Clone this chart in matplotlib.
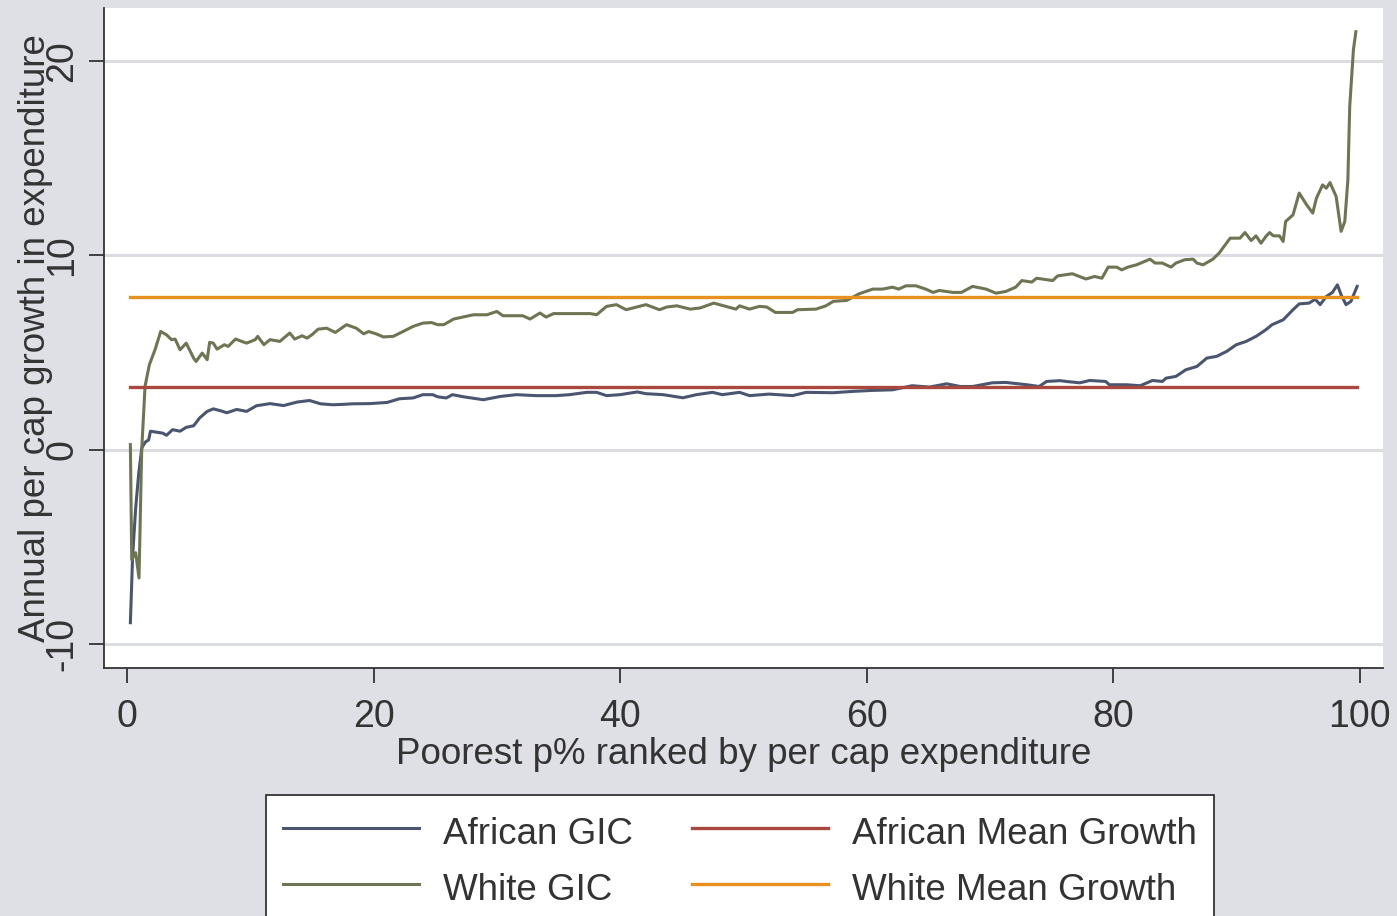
import numpy as np
import matplotlib
matplotlib.use("Agg")
import matplotlib.pyplot as plt

plt.rcParams['font.family'] = ['Liberation Sans', 'DejaVu Sans']
plt.rcParams['axes.unicode_minus'] = False

# percentile positions and growth rates
afr_x = [0.27, 0.45, 0.7, 0.95, 1.2, 1.5, 1.75, 1.9, 2.4, 2.9, 3.2, 3.7, 4.3, 4.8, 5.4, 5.9, 6.5, 7.0, 7.6, 8.1,
         8.9, 9.7, 10.5, 11.6, 12.7, 13.8, 14.8, 15.7, 16.7, 17.5, 18.3, 19.7, 21.1, 22.1, 23.2, 24.0, 24.8, 25.2,
         25.9, 26.4, 27.3, 28.9, 30.3, 31.6, 33.2, 34.8, 35.9, 37.3, 38.1, 38.9, 40.0, 41.4, 42.1, 43.5, 45.1,
         46.2, 47.5, 48.3, 49.7, 50.5, 52.1, 54.0, 55.1, 57.3, 58.9, 60.5, 62.1, 63.7, 65.1, 66.5, 67.6, 68.6,
         70.2, 71.3, 73.0, 74.0, 74.6, 75.7, 76.2, 77.3, 78.1, 79.4, 79.7, 81.1, 82.2, 83.2, 84.0, 84.3, 85.1,
         85.9, 86.8, 87.6, 88.4, 89.2, 90.0, 90.8, 91.6, 92.4, 92.9, 93.8, 94.6, 95.1, 95.9, 96.4, 96.8, 97.3,
         97.8, 98.2, 98.5, 98.9, 99.3, 99.8]
afr_gic = [-8.9, -5.5, -3.0, -1.2, 0.1, 0.4, 0.5, 0.95, 0.9, 0.85, 0.74, 1.03, 0.95, 1.15, 1.23, 1.64, 1.97, 2.1,
           2.0, 1.9, 2.07, 1.97, 2.26, 2.37, 2.27, 2.45, 2.53, 2.36, 2.31, 2.33, 2.36, 2.37, 2.43, 2.62, 2.66, 2.83,
           2.83, 2.72, 2.66, 2.83, 2.72, 2.57, 2.74, 2.83, 2.78, 2.78, 2.83, 2.95, 2.95, 2.78, 2.83, 2.97, 2.88,
           2.83, 2.67, 2.83, 2.95, 2.83, 2.95, 2.78, 2.86, 2.78, 2.95, 2.93, 3.0, 3.05, 3.08, 3.29, 3.22, 3.39,
           3.25, 3.25, 3.44, 3.46, 3.34, 3.25, 3.51, 3.55, 3.51, 3.44, 3.56, 3.51, 3.34, 3.34, 3.29, 3.56, 3.51,
           3.68, 3.77, 4.11, 4.28, 4.71, 4.80, 5.05, 5.40, 5.57, 5.83, 6.17, 6.43, 6.68, 7.2, 7.5, 7.54, 7.74,
           7.46, 7.88, 8.09, 8.48, 7.97, 7.46, 7.63, 8.4]

wht_x = [0.27, 0.38, 0.7, 0.97, 1.19, 1.46, 1.81, 2.27, 2.73, 3.2, 3.6, 3.9, 4.3, 4.8, 5.4, 5.6, 6.1, 6.5, 6.7, 7.0,
         7.3, 7.9, 8.2, 8.8, 9.7, 10.4, 10.6, 11.1, 11.6, 12.4, 13.2, 13.6, 14.2, 14.6, 15.0, 15.5, 16.2, 16.9,
         17.8, 18.6, 19.2, 19.6, 20.2, 20.8, 21.6, 22.4, 23.2, 24.0, 24.7, 25.2, 25.7, 26.5, 28.1, 29.2, 30.0,
         30.5, 32.1, 32.7, 33.5, 34.0, 34.6, 36.5, 37.6, 38.1, 38.9, 39.7, 40.5, 42.1, 43.2, 43.8, 44.6, 45.7,
         46.5, 47.6, 48.6, 49.4, 49.7, 50.5, 51.3, 51.9, 52.6, 54.0, 54.4, 55.9, 56.7, 57.3, 58.4, 59.4, 60.5,
         61.3, 62.1, 62.6, 63.2, 64.0, 64.8, 65.4, 65.9, 67.0, 67.7, 68.6, 69.7, 70.5, 71.3, 72.1, 72.6, 73.4,
         73.8, 75.1, 75.5, 76.7, 77.8, 78.5, 79.1, 79.6, 80.3, 80.7, 81.2, 81.9, 83.0, 83.4, 84.0, 84.7, 85.1,
         85.8, 86.5, 86.8, 87.3, 88.1, 88.6, 89.5, 90.3, 90.7, 91.2, 91.6, 92.0, 92.4, 92.7, 93.0, 93.5, 93.8,
         94.0, 94.6, 95.1, 95.7, 96.2, 96.5, 97.0, 97.3, 97.6, 98.1, 98.5, 98.8, 99.05, 99.2, 99.5, 99.7]
wht_gic = [0.26, -5.66, -5.3, -6.6, 0.0, 3.26, 4.37, 5.14, 6.08, 5.91, 5.66, 5.69, 5.14, 5.48, 4.71, 4.54, 4.97,
           4.63, 5.52, 5.48, 5.17, 5.4, 5.31, 5.69, 5.48, 5.66, 5.83, 5.4, 5.66, 5.57, 6.0, 5.69, 5.86, 5.74, 5.91,
           6.2, 6.25, 6.03, 6.43, 6.25, 5.96, 6.08, 5.96, 5.8, 5.83, 6.08, 6.34, 6.51, 6.54, 6.43, 6.43, 6.72,
           6.94, 6.94, 7.11, 6.89, 6.89, 6.72, 7.03, 6.82, 7.0, 7.0, 7.0, 6.94, 7.37, 7.46, 7.2, 7.46, 7.2, 7.34,
           7.4, 7.23, 7.29, 7.54, 7.37, 7.23, 7.4, 7.23, 7.37, 7.34, 7.06, 7.06, 7.2, 7.23, 7.4, 7.63, 7.68, 8.02,
           8.26, 8.26, 8.36, 8.26, 8.43, 8.43, 8.26, 8.09, 8.19, 8.09, 8.09, 8.4, 8.26, 8.05, 8.14, 8.36, 8.7,
           8.62, 8.82, 8.7, 8.94, 9.05, 8.78, 8.91, 8.82, 9.39, 9.39, 9.25, 9.39, 9.51, 9.8, 9.6, 9.6, 9.39, 9.6,
           9.77, 9.8, 9.6, 9.51, 9.8, 10.11, 10.88, 10.88, 11.17, 10.76, 11.0, 10.62, 10.97, 11.17, 11.0, 11.0,
           10.71, 11.74, 12.08, 13.2, 12.6, 12.17, 12.94, 13.62, 13.45, 13.74, 13.02, 11.23, 11.74, 13.88, 17.65,
           20.57, 21.5]

afr_mean = 3.25
wht_mean = 7.85

labels = ['African GIC', 'White GIC', 'African Mean Growth', 'White Mean Growth']

bg = '#dfdfe6'
txt = '#333333'
c_afr = '#4a556f'
c_wht = '#6e7553'
c_afr_m = '#a9483f'
c_wht_m = '#e8911f'

fig = plt.figure(figsize=(13.97, 9.16), dpi=100, facecolor=bg)
ax = fig.add_axes([104/1397, 1-668/916, (1383-104)/1397, (668-8)/916])
ax.set_facecolor('white')

for y in [-10, 0, 10, 20]:
    ax.axhline(y, color='#dcdce3', lw=2.2, zorder=0)

l1, = ax.plot(afr_x, afr_gic, color=c_afr, lw=2.2)
l3, = ax.plot(wht_x, wht_gic, color=c_wht, lw=2.2)
l2, = ax.plot([afr_x[0], afr_x[-1]], [afr_mean, afr_mean], color=c_afr_m, lw=2.4)
l4, = ax.plot([wht_x[0], afr_x[-1]], [wht_mean, wht_mean], color=c_wht_m, lw=2.4)

ax.set_xlim(-1.87, 101.9)
ax.set_ylim(-11.23, 22.72)
ax.set_xticks([0, 20, 40, 60, 80, 100])
ax.set_yticks([-10, 0, 10, 20])

for s in ['top', 'right']:
    ax.spines[s].set_visible(False)
for s in ['left', 'bottom']:
    ax.spines[s].set_color(txt)
    ax.spines[s].set_linewidth(1.3)

ax.tick_params(axis='both', colors=txt, labelsize=27, length=11, width=1.3)
ax.tick_params(axis='y', pad=6)
ax.tick_params(axis='x', pad=11)
for t in ax.get_yticklabels():
    t.set_rotation(90)
    t.set_va('center')

ax.set_xlabel('Poorest p% ranked by per cap expenditure', fontsize=26.5, color=txt, labelpad=2)
ax.set_ylabel('Annual per cap growth in expenditure', fontsize=26.5, color=txt)
ax.yaxis.set_label_coords(-0.040, 0.5)

leg = fig.legend([l1, l3, l2, l4], labels, ncol=2, loc='upper left',
                 bbox_to_anchor=(266/1397, 1-795/916), bbox_transform=fig.transFigure,
                 borderaxespad=0, fontsize=26.5, frameon=True, fancybox=False, framealpha=1,
                 handlelength=3.7, handleheight=1.3, handletextpad=0.66, columnspacing=1.6,
                 labelspacing=0.42, borderpad=0.45)
leg.get_frame().set_edgecolor(txt)
leg.get_frame().set_facecolor('white')
leg.get_frame().set_linewidth(1.3)
for t in leg.get_texts():
    t.set_color(txt)

fig.savefig('out.png', dpi=100, facecolor=bg)
